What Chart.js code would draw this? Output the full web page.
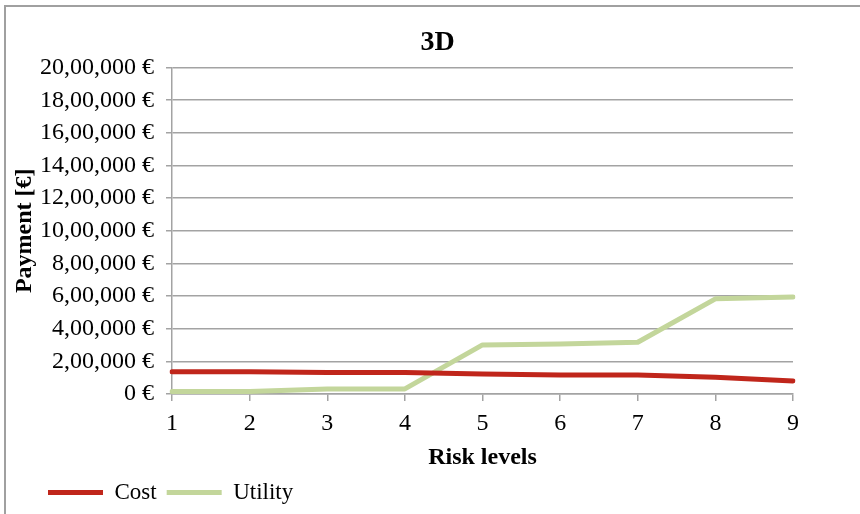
<!DOCTYPE html>
<html>
<head>
<meta charset="utf-8">
<script src="https://cdn.jsdelivr.net/npm/chart.js@4/dist/chart.umd.min.js"></script>
<style>
  html, body { margin: 0; padding: 0; background: #ffffff; }
  #wrap { width: 860px; height: 514px; position: relative; }
</style>
</head>
<body>
<div id="wrap"><canvas id="c" width="860" height="514"></canvas></div>
<script>
const categories = ['1', '2', '3', '4', '5', '6', '7', '8', '9'];
const costValues = [137000, 137000, 131000, 131000, 123000, 117000, 117000, 102000, 80000];
const utilityValues = [16000, 16000, 31000, 31000, 301000, 307000, 317000, 583000, 595000];
const yTickLabels = ['0 €', '2,00,000 €', '4,00,000 €', '6,00,000 €', '8,00,000 €', '10,00,000 €',
  '12,00,000 €', '14,00,000 €', '16,00,000 €', '18,00,000 €', '20,00,000 €'];

const SERIF = '"Liberation Serif", "Times New Roman", serif';
const GRID = '#a3a3a3';

const framePlugin = {
  id: 'frame',
  beforeDraw(chart) {
    const ctx = chart.ctx;
    ctx.save();
    ctx.fillStyle = '#ffffff';
    ctx.fillRect(0, 0, chart.width, chart.height);
    ctx.strokeStyle = '#a0a0a0';
    ctx.lineWidth = 2;
    ctx.beginPath();
    ctx.moveTo(5, chart.height);
    ctx.lineTo(5, 6);
    ctx.lineTo(chart.width, 6);
    ctx.stroke();
    ctx.restore();
  },
  afterLayout(chart) {
    if (chart.legend) {
      chart.legend.left += 38;
      chart.legend.right += 38;
    }
    if (chart.titleBlock) {
      chart.titleBlock.left += 41;
      chart.titleBlock.right += 41;
    }
  }
};

new Chart(document.getElementById('c'), {
  type: 'line',
  data: {
    labels: categories,
    datasets: [
      {
        label: 'Cost',
        data: costValues,
        borderColor: '#c0261b',
        backgroundColor: '#c0261b',
        borderWidth: 5,
        borderCapStyle: 'round',
        borderJoinStyle: 'round',
        pointRadius: 0,
        tension: 0,
        fill: false
      },
      {
        label: 'Utility',
        data: utilityValues,
        borderColor: '#c3d69b',
        backgroundColor: '#c3d69b',
        borderWidth: 5,
        borderCapStyle: 'round',
        borderJoinStyle: 'round',
        pointRadius: 0,
        tension: 0,
        fill: false
      }
    ]
  },
  options: {
    responsive: false,
    animation: false,
    devicePixelRatio: 1,
    layout: { padding: { left: 0, right: 67, top: 0, bottom: 0 } },
    plugins: {
      title: {
        display: true,
        text: '3D',
        color: '#000000',
        font: { family: SERIF, size: 28, weight: 'bold', lineHeight: 1.2 },
        padding: { top: 26, bottom: 8 }
      },
      legend: {
        display: true,
        position: 'bottom',
        align: 'start',
        labels: {
          color: '#000000',
          font: { family: SERIF, size: 23 },
          usePointStyle: true,
          pointStyle: 'line',
          pointStyleWidth: 55,
          padding: 10
        }
      },
      tooltip: { enabled: false }
    },
    scales: {
      x: {
        type: 'category',
        offset: false,
        grid: {
          display: true,
          drawOnChartArea: false,
          drawTicks: true,
          tickLength: 7,
          color: GRID,
          lineWidth: 1.5
        },
        border: { display: true, color: GRID, width: 1.5 },
        ticks: {
          color: '#000000',
          font: { family: SERIF, size: 24 },
          padding: 8,
          maxRotation: 0,
          autoSkip: false
        },
        title: {
          display: true,
          text: 'Risk levels',
          color: '#000000',
          font: { family: SERIF, size: 24, weight: 'bold', lineHeight: 1 },
          padding: { top: 0, bottom: 1 }
        },
        afterFit(scale) { scale.height = 77; }
      },
      y: {
        min: 0,
        max: 2000000,
        grid: {
          display: true,
          drawTicks: true,
          tickLength: 6,
          color: GRID,
          lineWidth: 1.5
        },
        border: { display: true, color: GRID, width: 1.5 },
        ticks: {
          stepSize: 200000,
          color: '#000000',
          font: { family: SERIF, size: 24 },
          padding: 12,
          callback: function (value, index) { return yTickLabels[index]; }
        },
        title: {
          display: true,
          text: 'Payment [€]',
          color: '#000000',
          font: { family: SERIF, size: 24, weight: 'bold', lineHeight: 1.2 },
          padding: { top: 10, bottom: 0 }
        },
        afterFit(scale) { scale.width = 172; }
      }
    }
  },
  plugins: [framePlugin]
});
</script>
</body>
</html>
